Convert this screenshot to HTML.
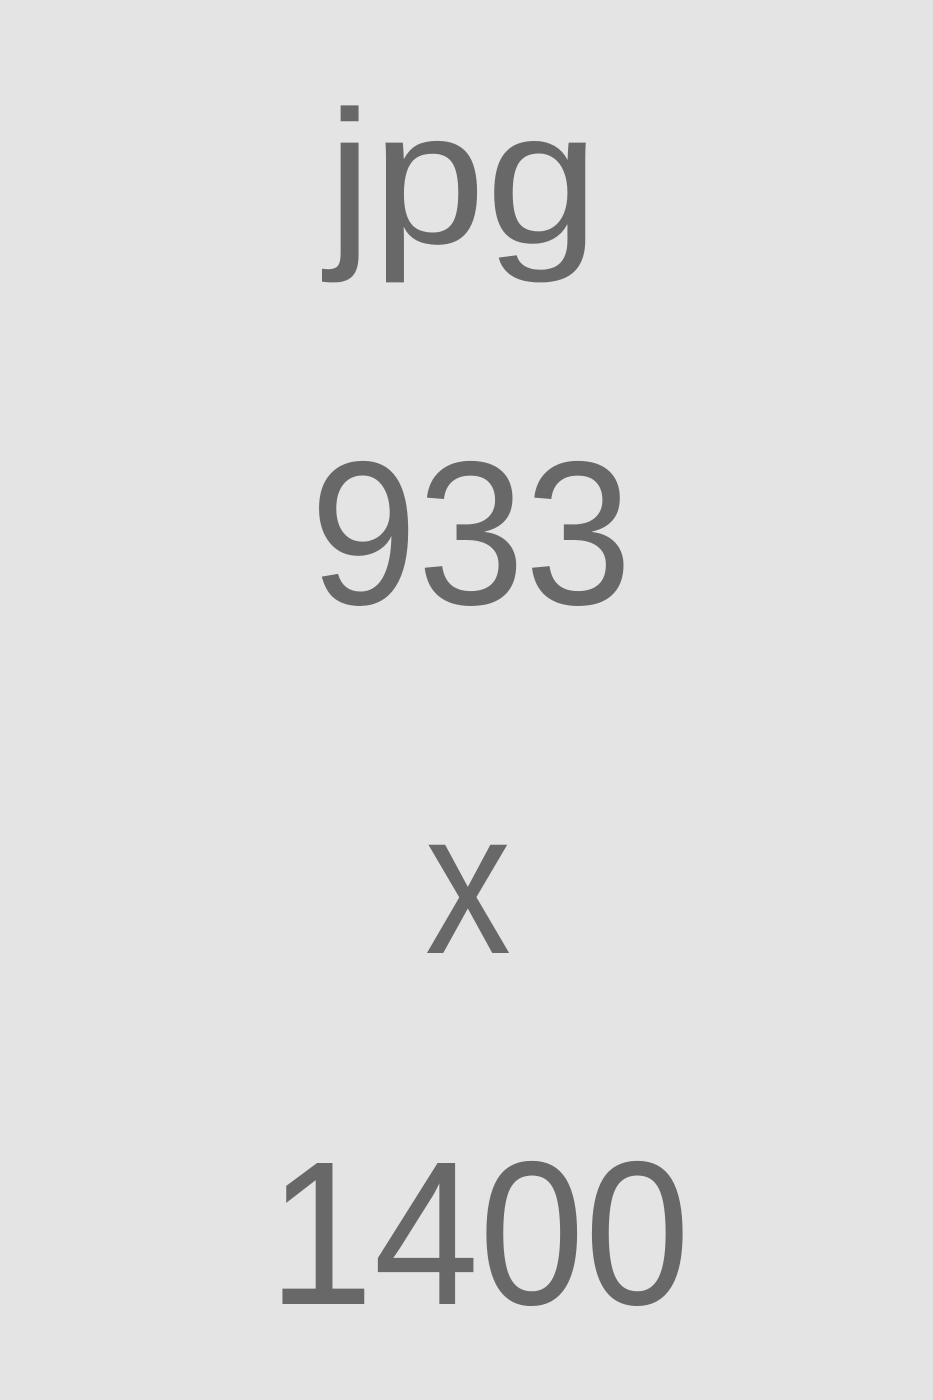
<!DOCTYPE html>
<html>
<head>
<meta charset="utf-8">
<style>
  html, body { margin: 0; padding: 0; }
  body { width: 933px; height: 1400px; background: #e4e4e4; overflow: hidden; }
  svg { display: block; }
  text { font-family: "Liberation Sans", sans-serif; fill: #686868; text-anchor: middle; }
</style>
</head>
<body>
<svg width="933" height="1400" viewBox="0 0 933 1400">
  <rect x="0" y="0" width="933" height="1400" fill="#e4e4e4"/>
  <text x="463" y="243" font-size="190" textLength="272" lengthAdjust="spacingAndGlyphs">jpg</text>
  <text x="471" y="604" font-size="205" textLength="322" lengthAdjust="spacingAndGlyphs">933</text>
  <text x="468" y="953" font-size="205" textLength="86" lengthAdjust="spacingAndGlyphs">x</text>
  <text x="479" y="1304" font-size="205" textLength="422" lengthAdjust="spacingAndGlyphs">1400</text>
</svg>
</body>
</html>
